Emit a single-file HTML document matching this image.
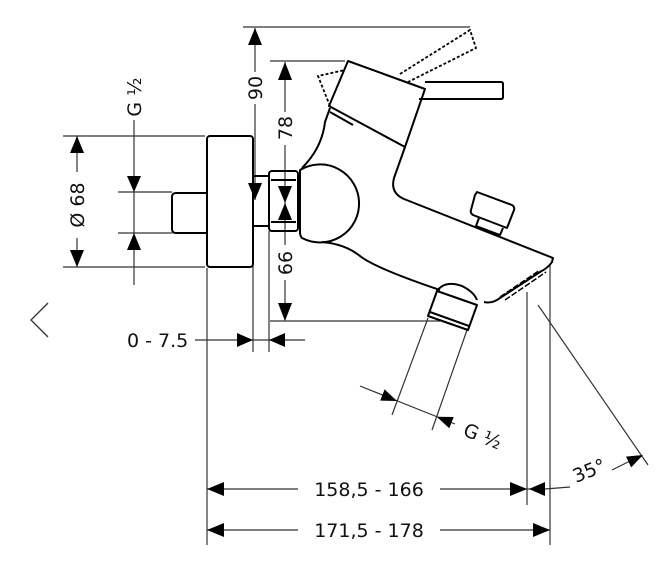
<!DOCTYPE html>
<html><head><meta charset="utf-8"><style>
html,body{margin:0;padding:0;background:#fff;}
svg{display:block;}
text{font-family:"DejaVu Sans","Liberation Sans",sans-serif;fill:#111;}
</style></head><body>
<svg width="657" height="566" viewBox="0 0 657 566" xmlns="http://www.w3.org/2000/svg">
<g stroke="#333" stroke-width="1.2" fill="none">
<line x1="243" y1="27" x2="470" y2="27"/>
<line x1="270" y1="61" x2="345" y2="61"/>
<line x1="63" y1="136" x2="205" y2="136"/>
<line x1="63" y1="267" x2="205" y2="267"/>
<line x1="118" y1="192" x2="172" y2="192"/>
<line x1="118" y1="233" x2="172" y2="233"/>
<line x1="270" y1="321" x2="440" y2="321"/>
<line x1="207" y1="268" x2="207" y2="545"/>
<line x1="253" y1="168" x2="253" y2="352"/>
<line x1="269" y1="231" x2="269" y2="352"/>
<line x1="527" y1="292" x2="527" y2="505"/>
<line x1="550" y1="265" x2="550" y2="545"/>
<line x1="538" y1="305" x2="648" y2="465"/>
<line x1="428" y1="318" x2="392" y2="415"/>
<line x1="467" y1="330" x2="432" y2="430"/>
<line x1="255" y1="28" x2="255" y2="72"/><line x1="255" y1="104" x2="255" y2="200"/>
<line x1="285" y1="62" x2="285" y2="112"/><line x1="285" y1="145" x2="285" y2="245"/><line x1="285" y1="280" x2="285" y2="320"/>
<line x1="77" y1="136" x2="77" y2="172"/><line x1="77" y1="238" x2="77" y2="267"/>
<line x1="134" y1="120" x2="134" y2="285"/>
<line x1="195" y1="340" x2="305" y2="340"/>
<line x1="207" y1="489" x2="298" y2="489"/><line x1="440" y1="489" x2="545" y2="489"/>
<line x1="207" y1="530" x2="298" y2="530"/><line x1="440" y1="530" x2="550" y2="530"/>
<line x1="545" y1="489" x2="570" y2="487"/>
<line x1="612" y1="470" x2="640" y2="456"/>
<line x1="360" y1="386" x2="455" y2="424"/>
</g>
<g fill="#000">
<polygon points="255,28 248,45 262,45"/>
<polygon points="255,200 248,183 262,183"/>
<polygon points="285,62 278,80 292,80"/>
<polygon points="285,203 278,186 292,186"/>
<polygon points="285,203 278,220 292,220"/>
<polygon points="285,321 278,303 292,303"/>
<polygon points="77,136 70,153 84,153"/>
<polygon points="77,267 70,250 84,250"/>
<polygon points="134,192 127,176 141,176"/>
<polygon points="134,233 127,250 141,250"/>
<polygon points="253,340 237,333 237,347"/>
<polygon points="269,340 285,333 285,347"/>
<polygon points="207,489 224,482 224,496"/>
<polygon points="527,489 510,482 510,496"/>
<polygon points="529,489 545,482 545,496"/>
<polygon points="207,530 224,523 224,537"/>
<polygon points="550,530 533,523 533,537"/>
<polygon points="643,455 631.2,467.4 626,456.6"/>
<polygon points="397,401 380.2,400.6 384.6,389.4"/>
<polygon points="436.7,416.7 449.3,428.2 453.7,417"/>
</g>
<g stroke="#000" stroke-width="2" fill="none" stroke-linejoin="round">
<rect x="207" y="136" width="46" height="131" rx="3"/>
<path d="M207,193 H176 Q172,193 172,197 V229 Q172,233 176,233 H207"/>
<line x1="253" y1="176" x2="269" y2="176"/><line x1="253" y1="226" x2="269" y2="226"/>
<rect x="269" y="171" width="29" height="60" rx="3"/>
<line x1="271" y1="180" x2="296" y2="180"/><line x1="271" y1="222" x2="296" y2="222"/>
<path d="M300,170 A39,39 0 1 1 302,238 Q300,236 300,232 Z"/>
<path d="M302,168 Q322,148 325,122 L330,108"/>
<polygon points="348,61 425,89 405,147 329,106"/>
<line x1="330" y1="112" x2="353" y2="125"/>
<path d="M425,82 H501 Q503,82 503,84 V97 Q503,99 501,99 H419"/>
<path d="M405,147 L394,178 Q390,193 404,199 L553,258 L552,262 Q548,268 540,272 L500,298 Q492,304 484,302"/>
<path d="M322,242 Q345,244 360,256 Q375,268 440,290"/>
<path d="M477,192 L512,205 Q515,207 514,210 L507,228 L473,215 Q470,213 471,210 L475,195 Z"/>
<path d="M479,218 L476,226 L500,235 L503,228"/>
<path d="M437,291 Q445,280 462,286 Q474,292 477,300"/>
<path d="M437,291 L477,305 L468,330 L428,316 Z"/>
<line x1="430" y1="312" x2="469" y2="326"/>
<path d="M500,297 L540,270 M505,300 L546,272" stroke-width="1.5" stroke-dasharray="6,2"/>
</g>
<g stroke="#000" stroke-width="1.8" fill="none" stroke-dasharray="3,2">
<path d="M330,106 L318,76 L345,70"/>
<path d="M400,74 L470,30 L476,48 L408,82"/>
</g>
<polyline points="48,303 31,320 48,337" stroke="#333" stroke-width="1.3" fill="none"/>
<g font-size="19">
<text transform="translate(262,88) rotate(-90)" text-anchor="middle">90</text>
<text transform="translate(292,128) rotate(-90)" text-anchor="middle">78</text>
<text transform="translate(292,263) rotate(-90)" text-anchor="middle">66</text>
<text transform="translate(84,205) rotate(-90)" text-anchor="middle">Ø 68</text>
<text transform="translate(141,97) rotate(-90)" text-anchor="middle">G ½</text>
<text x="127" y="347">0 - 7.5</text>
<text x="369" y="496" text-anchor="middle">158,5 - 166</text>
<text x="369" y="537" text-anchor="middle">171,5 - 178</text>
<text transform="translate(576,483) rotate(-22)">35°</text>
<text transform="translate(462,435) rotate(22)">G ½</text>
</g>
</svg>
</body></html>
